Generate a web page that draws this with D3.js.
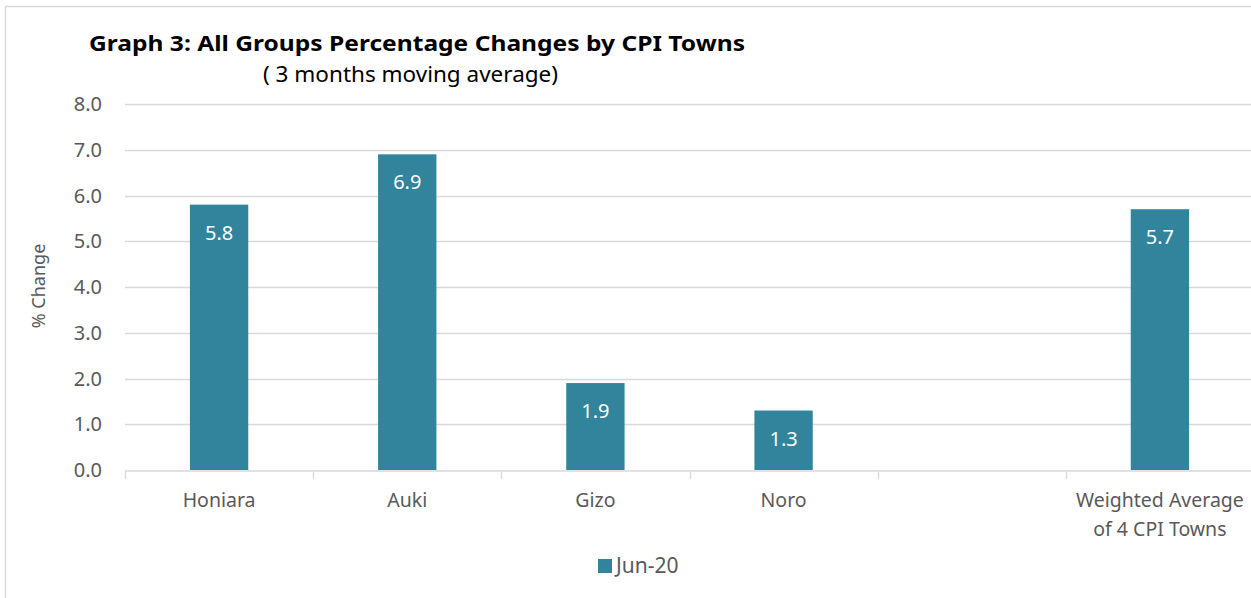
<!DOCTYPE html>
<html>
<head>
<meta charset="utf-8">
<script src="https://cdn.jsdelivr.net/npm/d3@7"></script>
<style>
  body { margin: 0; background: #fff; }
  svg { display: block; font-family: "Noto Sans", Lato, sans-serif; }
</style>
</head>
<body>
<svg id="chart" width="1251" height="598"></svg>
<script>
// chart data
var towns = ['Honiara', 'Auki', 'Gizo', 'Noro', '', 'Weighted Average|of 4 CPI Towns'];
var jun20 = [5.8, 6.9, 1.9, 1.3, null, 5.7];
var yTicks = [0, 1, 2, 3, 4, 5, 6, 7, 8];
var seriesName = 'Jun-20';

var svg = d3.select('#chart');
var barColor = '#31849b';
var textGrey = '#595959';

// outer frame
svg.append('rect')
    .attr('x', 5.5).attr('y', 6.5)
    .attr('width', 1260).attr('height', 620)
    .attr('fill', 'none')
    .attr('stroke', '#d9d9d9')
    .attr('stroke-width', 1.5);

var x = d3.scaleBand()
    .domain(d3.range(towns.length))
    .range([125, 1254])
    .paddingInner(0.69)
    .paddingOuter(0.345);

var xGrid = d3.scaleBand()
    .domain(d3.range(towns.length))
    .range([125, 1254]);

var y = d3.scaleLinear().domain([0, 8]).range([470, 104]);

// gridlines
svg.append('g')
    .selectAll('line')
    .data(yTicks.slice(1))
    .enter().append('line')
    .attr('x1', 125).attr('x2', 1254)
    .attr('y1', function(d) { return Math.round(y(d)) + 0.5; })
    .attr('y2', function(d) { return Math.round(y(d)) + 0.5; })
    .attr('stroke', '#d9d9d9')
    .attr('stroke-width', 1.3);

// y axis labels
svg.append('g')
    .selectAll('text')
    .data(yTicks)
    .enter().append('text')
    .attr('x', 102)
    .attr('y', function(d) { return y(d) + 7; })
    .attr('text-anchor', 'end')
    .attr('fill', textGrey)
    .style('font-size', '20px')
    .text(function(d) { return d.toFixed(1); });

// x axis line and ticks
var xAxisG = svg.append('g');
xAxisG.append('line')
    .attr('x1', 125).attr('x2', 1254)
    .attr('y1', 471).attr('y2', 471)
    .attr('stroke', '#d9d9d9')
    .attr('stroke-width', 1.5);
xAxisG.selectAll('.tick')
    .data(d3.range(towns.length))
    .enter().append('line')
    .attr('class', 'tick')
    .attr('x1', function(d) { return Math.round(xGrid(d)) + 0.5; })
    .attr('x2', function(d) { return Math.round(xGrid(d)) + 0.5; })
    .attr('y1', 471).attr('y2', 479)
    .attr('stroke', '#d9d9d9')
    .attr('stroke-width', 1.3);

// bars
var bars = towns.map(function(t, i) { return {i: i, v: jun20[i]}; })
    .filter(function(d) { return d.v !== null; });

svg.append('g')
    .selectAll('rect')
    .data(bars)
    .enter().append('rect')
    .attr('x', function(d) { return x(d.i); })
    .attr('y', function(d) { return y(d.v); })
    .attr('width', x.bandwidth())
    .attr('height', function(d) { return y(0) - y(d.v); })
    .attr('fill', barColor);

svg.append('g')
    .selectAll('text')
    .data(bars)
    .enter().append('text')
    .attr('x', function(d) { return x(d.i) + x.bandwidth() / 2; })
    .attr('y', function(d) { return y(d.v) + 35; })
    .attr('text-anchor', 'middle')
    .attr('fill', '#fff')
    .style('font-size', '20px')
    .text(function(d) { return d.v.toFixed(1); });

// category labels
svg.append('g')
    .selectAll('text')
    .data(towns)
    .enter().append('text')
    .attr('x', function(d, i) { return xGrid(i) + xGrid.bandwidth() / 2; })
    .attr('y', 507)
    .attr('text-anchor', 'middle')
    .attr('fill', textGrey)
    .style('font-size', '19.5px')
    .each(function(d) {
        var lines = d.split('|');
        var el = d3.select(this);
        lines.forEach(function(l, k) {
            el.append('tspan')
                .attr('x', el.attr('x'))
                .attr('dy', k === 0 ? 0 : 29)
                .text(l);
        });
    });

// axis title
svg.append('text')
    .attr('transform', 'translate(45,286) rotate(-90)')
    .attr('text-anchor', 'middle')
    .attr('fill', textGrey)
    .style('font-size', '18px')
    .text('% Change');

// titles
svg.append('text')
    .attr('x', 89).attr('y', 51)
    .attr('fill', '#000')
    .style('font-size', '22px')
    .style('font-weight', 'bold')
    .attr('textLength', 656)
    .attr('lengthAdjust', 'spacingAndGlyphs')
    .text('Graph 3: All Groups Percentage Changes by CPI Towns');

svg.append('text')
    .attr('x', 263).attr('y', 82)
    .attr('fill', '#000')
    .style('font-size', '22.5px')
    .text('( 3 months moving average)');

// legend
svg.append('rect')
    .attr('x', 598).attr('y', 559)
    .attr('width', 14).attr('height', 14)
    .attr('fill', barColor);
svg.append('text')
    .attr('x', 616).attr('y', 573)
    .attr('fill', textGrey)
    .style('font-size', '21px')
    .text(seriesName);
</script>
</body>
</html>
